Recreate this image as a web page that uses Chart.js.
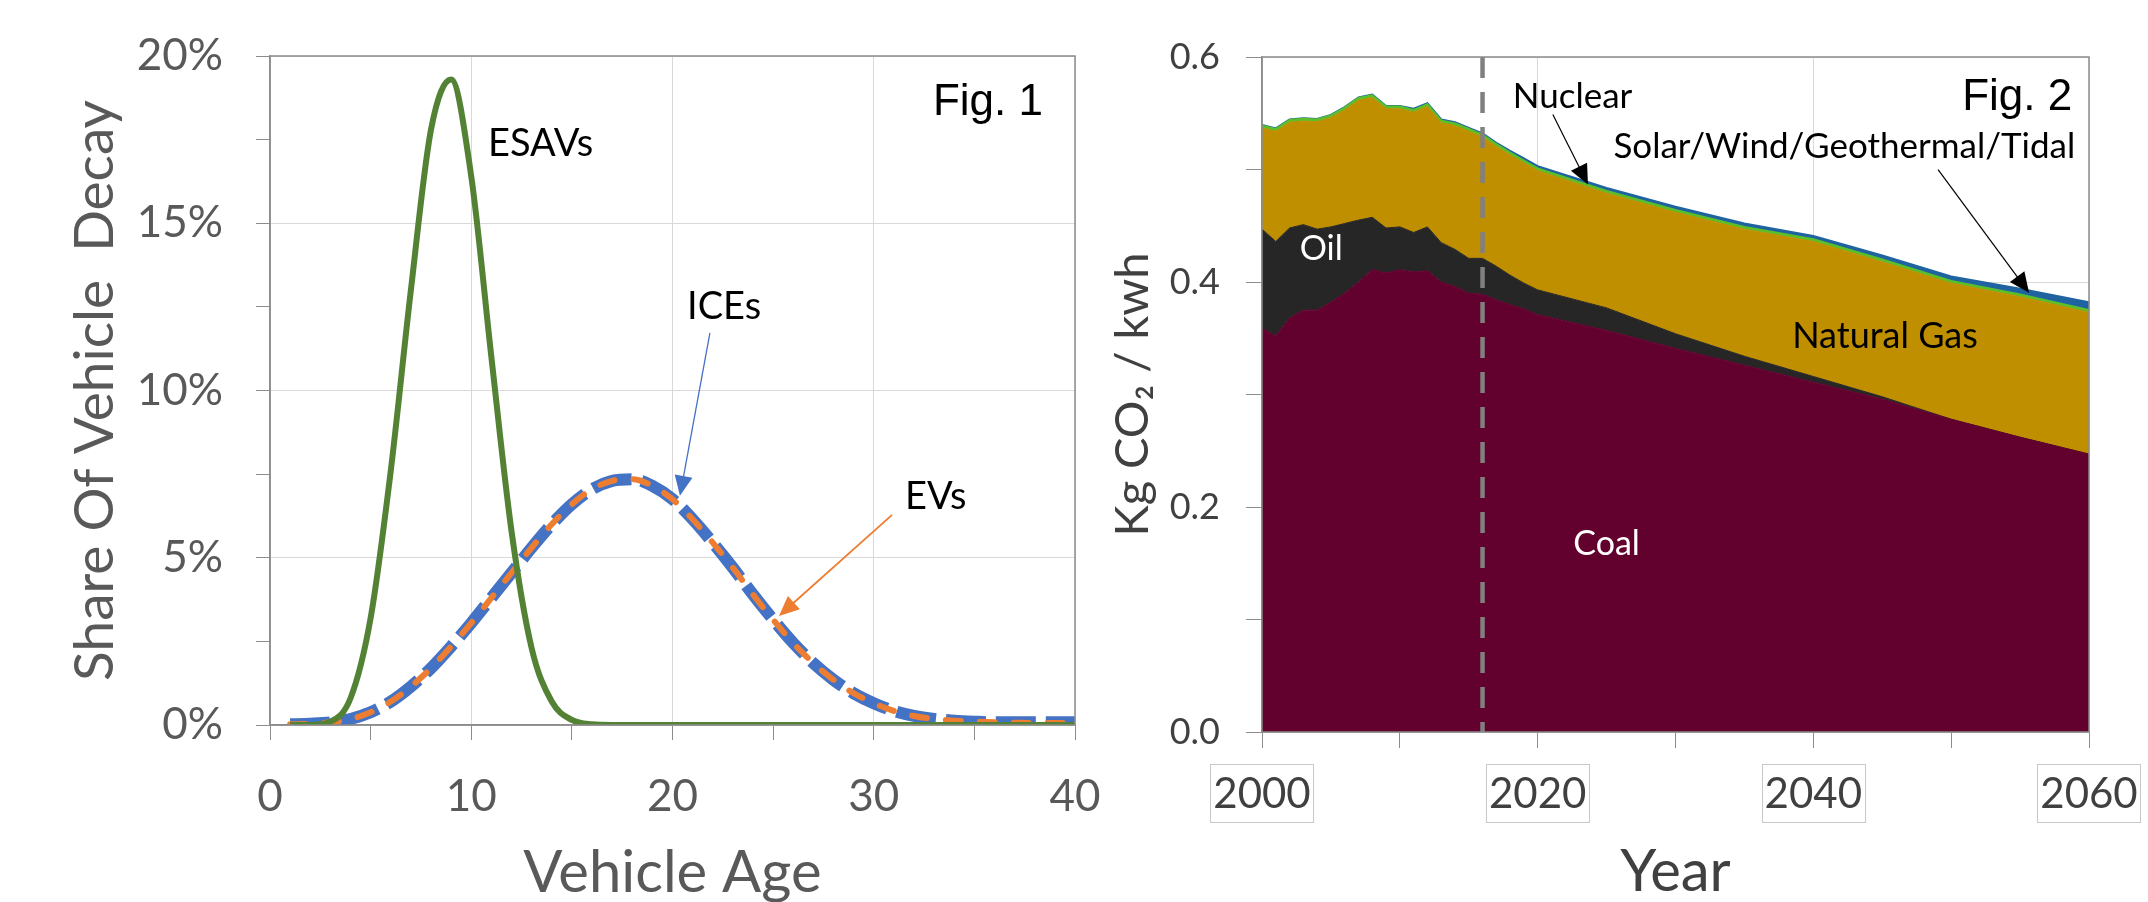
<!DOCTYPE html>
<html>
<head>
<meta charset="utf-8">
<script src="https://cdn.jsdelivr.net/npm/chart.js@4.4.0/dist/chart.umd.min.js"></script>
<style>
body { margin:0; background:#fff; width:2148px; height:902px; overflow:hidden; position:relative; }
canvas { position:absolute; top:0; }
#fig1 { left:0; }
#fig2 { left:1100px; }
</style>
</head>
<body>
<canvas id="fig1" width="1100" height="902"></canvas>
<canvas id="fig2" width="1048" height="902"></canvas>
<script>
// Fig. 1 : share of vehicle decay (%) by vehicle age
let ages = [1,2,3,4,5,6,7,8,9,10,11,12,13,14,15,16,17,18,19,20,21,22,23,24,25,26,27,28,29,30,31,32,33,34,35,36,37,38,39,40];
let esavShare = [0,0,0.1,0.8,3.2,7.6,13.0,17.8,19.3,16.4,11.0,5.8,2.3,0.7,0.15,0.02,0,0,0,0,0,0,0,0,0,0,0,0,0,0,0,0,0,0,0,0,0,0,0,0];
let iceShare = [0.02,0.04,0.08,0.18,0.38,0.7,1.15,1.7,2.35,3.05,3.8,4.55,5.3,6.0,6.6,7.05,7.3,7.35,7.15,6.75,6.15,5.45,4.7,3.9,3.15,2.45,1.85,1.35,0.95,0.65,0.42,0.27,0.18,0.13,0.1,0.08,0.08,0.08,0.08,0.08];
let evShare = [0.02,0.04,0.08,0.18,0.38,0.7,1.15,1.7,2.35,3.05,3.8,4.55,5.3,6.0,6.6,7.05,7.3,7.35,7.15,6.75,6.15,5.45,4.7,3.9,3.15,2.45,1.85,1.35,0.95,0.65,0.42,0.27,0.18,0.13,0.1,0.08,0.07,0.06,0.06,0.06];

// Fig. 2 : kg CO2 per kwh, stacked by source
let years = [2000,2001,2002,2003,2004,2005,2006,2007,2008,2009,2010,2011,2012,2013,2014,2015,2016,2017,2018,2019,2020,2025,2030,2035,2040,2045,2050,2055,2060];
let coal = [0.359,0.352,0.368,0.375,0.375,0.382,0.390,0.400,0.411,0.408,0.411,0.409,0.410,0.400,0.396,0.390,0.389,0.384,0.380,0.376,0.371,0.357,0.341,0.326,0.311,0.296,0.278,0.262,0.247];
let oil = [0.088,0.084,0.080,0.076,0.072,0.067,0.062,0.055,0.0465,0.040,0.038,0.035,0.039,0.035,0.033,0.031,0.032,0.030,0.026,0.023,0.022,0.020,0.013,0.008,0.005,0.002,0,0,0];
let gas = [0.090,0.098,0.094,0.092,0.0955,0.097,0.101,0.1065,0.1065,0.106,0.105,0.107,0.107,0.1065,0.110,0.113,0.108,0.1065,0.107,0.107,0.106,0.102,0.108,0.113,0.120,0.120,0.121,0.125,0.126];
let nuclear = [0.002,0.002,0.002,0.002,0.002,0.002,0.002,0.002,0.002,0.002,0.002,0.002,0.002,0.002,0.002,0.002,0.002,0.002,0.002,0.002,0.002,0.002,0.002,0.002,0.002,0.002,0.002,0.002,0.002];
let renewables = [0.0005,0.0005,0.0005,0.0005,0.0005,0.0005,0.0005,0.0005,0.0005,0.0005,0.0005,0.001,0.001,0.001,0.001,0.001,0.001,0.0012,0.0015,0.0018,0.002,0.0025,0.003,0.003,0.003,0.0035,0.004,0.005,0.007];
let presentYear = 2016;

let fig1Ticks = [0,10,20,30,40];
let fig2Ticks = [2000,2020,2040,2060];

const LATO = "Lato, 'Noto Sans', sans-serif";
const ARIAL = "'Liberation Sans', Arial, sans-serif";

function pts(xs, ys){
    return xs.map((x,i) => ({x:x, y:ys[i]}));
}

function arrow(ctx, x1, y1, x2, y2, color, width, head){
    let a = Math.atan2(y2-y1, x2-x1);
    ctx.save();
    ctx.strokeStyle = color;
    ctx.fillStyle = color;
    ctx.lineWidth = width;
    ctx.beginPath();
    ctx.moveTo(x1, y1);
    ctx.lineTo(x2 - Math.cos(a)*head*0.8, y2 - Math.sin(a)*head*0.8);
    ctx.stroke();
    ctx.beginPath();
    ctx.moveTo(x2, y2);
    ctx.lineTo(x2 - head*Math.cos(a) + head*0.45*Math.sin(a), y2 - head*Math.sin(a) - head*0.45*Math.cos(a));
    ctx.lineTo(x2 - head*Math.cos(a) - head*0.45*Math.sin(a), y2 - head*Math.sin(a) + head*0.45*Math.cos(a));
    ctx.closePath();
    ctx.fill();
    ctx.restore();
}

function text(ctx, str, x, y, font, color, align){
    ctx.save();
    ctx.font = font;
    ctx.fillStyle = color;
    ctx.textAlign = align || "left";
    ctx.textBaseline = "alphabetic";
    ctx.fillText(str, x, y);
    ctx.restore();
}

// keep the plot area where the layout padding puts it
function fitX(h){
    return s => { s.height = h; s.paddingLeft = 0; s.paddingRight = 0; };
}
function fitY(w){
    return s => { s.width = w; s.paddingTop = 0; s.paddingBottom = 0; };
}

//frame round the plot area
let framePlugin = {
    id: "frame",
    afterDatasetsDraw(chart){
        let a = chart.chartArea, ctx = chart.ctx;
        ctx.save();
        ctx.strokeStyle = "#8c8c8c";
        ctx.lineWidth = 1.5;
        ctx.strokeRect(a.left, a.top, a.right - a.left, a.bottom - a.top);
        ctx.restore();
    }
};

//labels and arrows on fig 1
let fig1Notes = {
    id: "fig1Notes",
    afterDraw(chart){
        let ctx = chart.ctx, x = chart.scales.x, y = chart.scales.y;
        let px = v => x.getPixelForValue(v), py = v => y.getPixelForValue(v);
        text(ctx, "Fig. 1", px(32.94), py(18.24), "44px " + ARIAL, "#000");
        text(ctx, "ESAVs", px(10.83), py(17.01), "38px " + LATO, "#000");
        text(ctx, "ICEs", px(20.72), py(12.14), "38px " + LATO, "#000");
        text(ctx, "EVs", px(31.55), py(6.46), "38px " + LATO, "#000");
        arrow(ctx, px(21.86), py(11.72), px(20.37), py(6.85), "#4472C4", 1.3, 20);
        arrow(ctx, px(30.91), py(6.28), px(25.29), py(3.26), "#ED7D31", 1.8, 20);
    }
};

//labels, arrows and boxed year labels on fig 2
let fig2Notes = {
    id: "fig2Notes",
    afterDraw(chart){
        let ctx = chart.ctx, x = chart.scales.x, y = chart.scales.y;
        let px = v => x.getPixelForValue(v), py = v => y.getPixelForValue(v);
        ctx.save();
        ctx.font = "42px " + LATO;
        ctx.strokeStyle = "#c8c8c8";
        ctx.lineWidth = 1;
        fig2Ticks.forEach(t => {
            let w = ctx.measureText(String(t)).width + 6;
            ctx.strokeRect(Math.round(px(t) - w/2) + 0.5, x.top + 32.5, Math.round(w), 58);
        });
        ctx.restore();
        text(ctx, "Fig. 2", px(2050.8), py(0.5533), "44px " + ARIAL, "#000");
        text(ctx, "Nuclear", px(2018.2), py(0.555), "35px " + LATO, "#000");
        text(ctx, "Solar/Wind/Geothermal/Tidal", px(2025.5), py(0.5106), "35px " + LATO, "#000");
        arrow(ctx, px(2021.1), py(0.5488), px(2023.65), py(0.4866), "#000", 1.2, 20);
        arrow(ctx, px(2049.05), py(0.4999), px(2055.65), py(0.3905), "#000", 1.2, 20);
        ctx.save();
        ctx.textBaseline = "middle";
        ctx.textAlign = "center";
        ctx.font = "34px " + LATO;
        ctx.fillStyle = "#fff";
        ctx.fillText("Oil", px(2004.3), py(0.4296));
        ctx.fillText("Coal", px(2025.0), py(0.1672));
        ctx.font = "36px " + LATO;
        ctx.fillStyle = "#000";
        ctx.fillText("Natural Gas", px(2045.2), py(0.3514));
        ctx.restore();
    }
};

let chart1 = new Chart(document.getElementById("fig1").getContext("2d"), {
    type: "line",
    data: {
        datasets: [
            {
                label: "ESAVs",
                data: pts(ages, esavShare),
                borderColor: "#548235",
                borderWidth: 6,
                cubicInterpolationMode: "monotone"
            },
            {
                label: "EVs",
                data: pts(ages, evShare),
                borderColor: "#ED7D31",
                borderWidth: 6,
                borderDash: [15, 19],
                borderCapStyle: "round",
                cubicInterpolationMode: "monotone"
            },
            {
                label: "ICEs",
                data: pts(ages, iceShare),
                borderColor: "#4472C4",
                borderWidth: 12,
                borderDash: [40, 10],
                cubicInterpolationMode: "monotone"
            }
        ]
    },
    options: {
        responsive: false,
        animation: false,
        devicePixelRatio: 1,
        elements: { point: { radius: 0 } },
        layout: { padding: { top: 56, right: 25, left: 0, bottom: 0 } },
        plugins: { legend: { display: false }, tooltip: { enabled: false } },
        scales: {
            x: {
                type: "linear",
                min: 0,
                max: 40,
                afterFit: fitX(177),
                border: { color: "#8c8c8c", width: 1.5 },
                grid: {
                    tickLength: 15,
                    tickColor: "#8c8c8c",
                    color: c => (c.tick && c.tick.value % 10 === 0) ? "#d9d9d9" : "rgba(0,0,0,0)"
                },
                ticks: {
                    stepSize: 5,
                    autoSkip: false,
                    maxRotation: 0,
                    padding: 30,
                    color: "#595959",
                    font: { family: LATO, size: 44 },
                    callback: v => fig1Ticks.includes(v) ? String(v) : ""
                },
                title: {
                    display: true,
                    text: "Vehicle Age",
                    color: "#595959",
                    font: { family: LATO, size: 58, lineHeight: 1 },
                    padding: { top: 0, bottom: 0 }
                }
            },
            y: {
                min: 0,
                max: 20,
                afterFit: fitY(270),
                border: { color: "#8c8c8c", width: 1.5 },
                grid: {
                    tickLength: 14,
                    tickColor: "#8c8c8c",
                    color: c => (c.tick && c.tick.value % 5 === 0) ? "#d9d9d9" : "rgba(0,0,0,0)"
                },
                ticks: {
                    stepSize: 2.5,
                    autoSkip: false,
                    padding: 33,
                    color: "#595959",
                    font: { family: LATO, size: 44 },
                    callback: v => v % 5 === 0 ? v + "%" : ""
                },
                title: {
                    display: true,
                    text: "Share Of Vehicle  Decay",
                    color: "#595959",
                    font: { family: LATO, size: 55, lineHeight: 1 },
                    padding: { top: 68, bottom: 0 }
                }
            }
        }
    },
    plugins: [framePlugin, fig1Notes]
});

let chart2 = new Chart(document.getElementById("fig2").getContext("2d"), {
    type: "line",
    data: {
        datasets: [
            {
                label: "today",
                stack: "divider",
                data: [{x: presentYear, y: 0.6}, {x: presentYear, y: 0}],
                borderColor: "#808080",
                borderWidth: 4.5,
                borderDash: [21, 14],
                fill: false
            },
            {
                label: "Coal",
                stack: "energy",
                data: pts(years, coal),
                borderColor: "#62002e",
                backgroundColor: "#62002e",
                borderWidth: 1,
                fill: "origin"
            },
            {
                label: "Oil",
                stack: "energy",
                data: pts(years, oil),
                borderColor: "#262626",
                backgroundColor: "#262626",
                borderWidth: 1,
                fill: "-1"
            },
            {
                label: "Natural Gas",
                stack: "energy",
                data: pts(years, gas),
                borderColor: "#bf8f00",
                backgroundColor: "#bf8f00",
                borderWidth: 1,
                fill: "-1"
            },
            {
                label: "Nuclear",
                stack: "energy",
                data: pts(years, nuclear),
                borderColor: "#5cbf2a",
                backgroundColor: "#5cbf2a",
                borderWidth: 2,
                fill: "-1"
            },
            {
                label: "Solar/Wind/Geothermal/Tidal",
                stack: "energy",
                data: pts(years, renewables),
                borderColor: "#1f64a0",
                backgroundColor: "#1f64a0",
                borderWidth: 2,
                fill: "-1"
            }
        ]
    },
    options: {
        responsive: false,
        animation: false,
        devicePixelRatio: 1,
        elements: { point: { radius: 0 }, line: { tension: 0 } },
        layout: { padding: { top: 57, right: 59, left: 0, bottom: 0 } },
        plugins: { legend: { display: false }, tooltip: { enabled: false } },
        scales: {
            x: {
                type: "linear",
                min: 2000,
                max: 2060,
                afterFit: fitX(170),
                border: { color: "#8c8c8c", width: 1.5 },
                grid: {
                    tickLength: 16,
                    tickColor: "#8c8c8c",
                    color: c => (c.tick && c.tick.value % 20 === 0) ? "#d9d9d9" : "rgba(0,0,0,0)"
                },
                ticks: {
                    stepSize: 10,
                    autoSkip: false,
                    maxRotation: 0,
                    padding: 21,
                    color: "#404040",
                    font: { family: LATO, size: 42 },
                    callback: v => fig2Ticks.includes(v) ? String(v) : ""
                },
                title: {
                    display: true,
                    text: "Year",
                    color: "#404040",
                    font: { family: LATO, size: 58, lineHeight: 1 },
                    padding: { top: 0, bottom: 1 }
                }
            },
            y: {
                stacked: true,
                min: 0,
                max: 0.6,
                afterFit: fitY(162),
                border: { color: "#8c8c8c", width: 1.5 },
                grid: {
                    tickLength: 16,
                    tickColor: "#8c8c8c",
                    color: c => (c.tick && Math.round(c.tick.value * 10) % 2 === 0) ? "#d9d9d9" : "rgba(0,0,0,0)"
                },
                ticks: {
                    stepSize: 0.1,
                    autoSkip: false,
                    padding: 26,
                    color: "#404040",
                    font: { family: LATO, size: 36 },
                    callback: v => Math.round(v * 10) % 2 === 0 ? v.toFixed(1) : ""
                },
                title: {
                    display: true,
                    text: "Kg CO\u2082 / kwh",
                    color: "#404040",
                    font: { family: LATO, size: 47, lineHeight: 1 },
                    padding: { top: 9, bottom: 0 }
                }
            }
        }
    },
    plugins: [framePlugin, fig2Notes]
});
</script>
</body>
</html>
